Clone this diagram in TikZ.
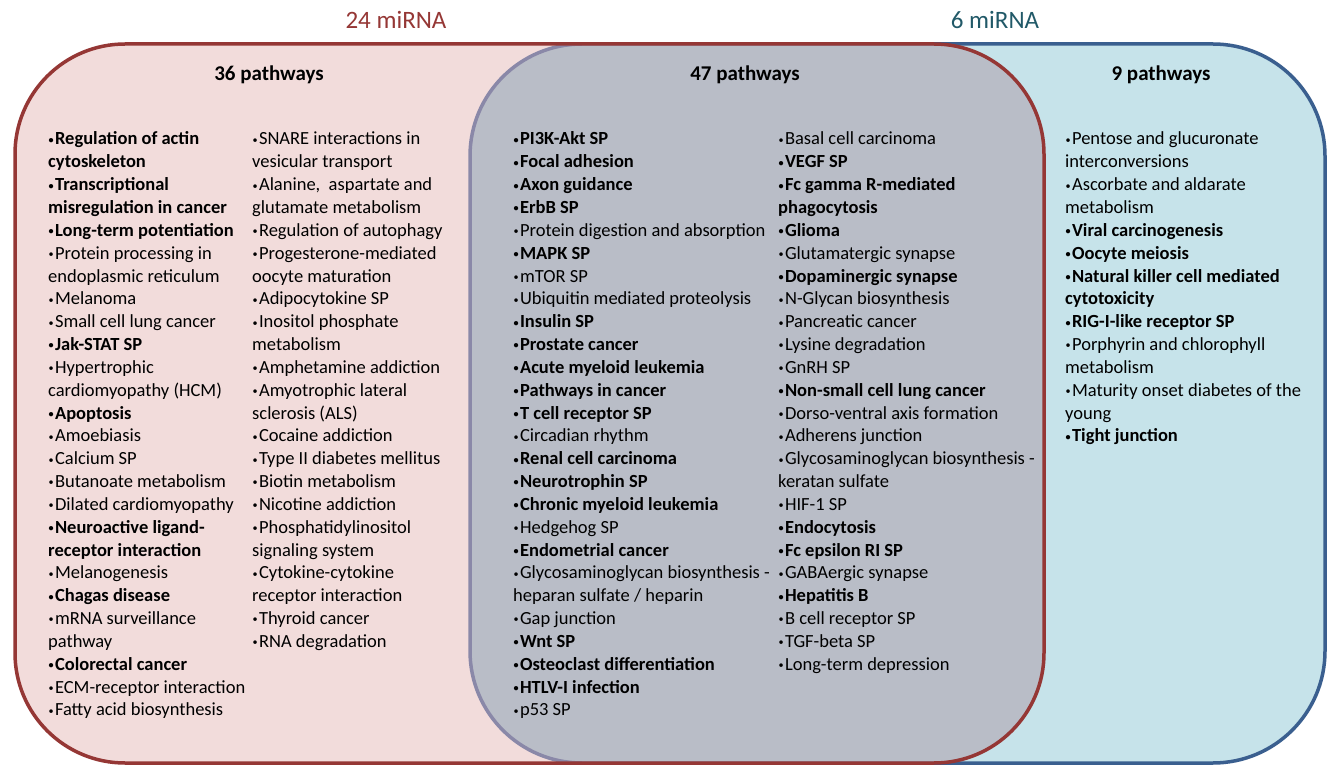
\documentclass[tikz,border=0pt]{standalone}
\usepackage{fontspec}
\usepackage{graphicx}
\setmainfont{Carlito}
\definecolor{pinkfill}{HTML}{F2DCDB}
\definecolor{cyanfill}{HTML}{C6E3EA}
\definecolor{greyfill}{HTML}{B9BDC7}
\definecolor{redline}{HTML}{953735}
\definecolor{blueline}{HTML}{3A5F8F}
\definecolor{purpline}{HTML}{8A88A8}
\definecolor{redlabel}{HTML}{953735}
\definecolor{bluelabel}{HTML}{215968}
\newcommand\bul{\makebox[0.37em][l]{\hspace{0.02em}\raisebox{0.09em}{\scalebox{0.55}{•}}}}
\newcommand\pl[1]{\hbox{#1}}
\newcommand\pb[1]{\hbox{\bfseries #1}}
\newcommand\bi[1]{\hbox{\bul#1}}
\newcommand\bb[1]{\hbox{\bfseries\bul#1}}
\tikzset{
  col/.style={anchor=base west, inner sep=0pt, font=\fontsize{18.5}{22.84}\selectfont},
  ttl/.style={anchor=base, inner sep=0pt, font=\fontsize{21}{25}\selectfont\bfseries},
  lbl/.style={anchor=base, inner sep=0pt, font=\fontsize{25}{30}\selectfont},
  border/.style={line width=3.5pt},
}
\begin{document}
\begin{tikzpicture}[x=1pt,y=-1pt]
\useasboundingbox[fill=white] (0,0) rectangle (1331,767);
% blue set
\fill[cyanfill, rounded corners=112pt] (470,44) rectangle (1325,763);
\draw[border, blueline, rounded corners=112pt] (470,44) rectangle (1325,763);
% red set
\fill[pinkfill, rounded corners=110pt] (15,44) rectangle (1044,763);
\begin{scope}
  \clip[rounded corners=110pt] (15,44) rectangle (1044,763);
  \fill[greyfill, rounded corners=112pt] (470,44) rectangle (1325,763);
  \draw[border, purpline, rounded corners=112pt] (470,44) rectangle (1325,763);
\end{scope}
\draw[border, redline, rounded corners=110pt] (15,44) rectangle (1044,763);

% labels
\node[lbl, text=redlabel] (lred) at (396,29) {24 miRNA};
\node[lbl, text=bluelabel] (lblue) at (995,29) {6 miRNA};

% titles
\node[ttl] (t1) at (269,81) {36 pathways};
\node[ttl] (t2) at (745,81) {47 pathways};
\node[ttl] (t3) at (1161,81) {9 pathways};

% left column 1
\node[col] (l1) at (48,145) {\vtop{%
\bb{Regulation of actin}
\pb{cytoskeleton}
\bb{Transcriptional}
\pb{misregulation in cancer}
\bb{Long-term potentiation}
\bi{Protein processing in}
\pl{endoplasmic reticulum}
\bi{Melanoma}
\bi{Small cell lung cancer}
\bb{Jak-STAT SP}
\bi{Hypertrophic}
\pl{cardiomyopathy (HCM)}
\bb{Apoptosis}
\bi{Amoebiasis}
\bi{Calcium SP}
\bi{Butanoate metabolism}
\bi{Dilated cardiomyopathy}
\bb{Neuroactive ligand-}
\pb{receptor interaction}
\bi{Melanogenesis}
\bb{Chagas disease}
\bi{mRNA surveillance}
\pl{pathway}
\bb{Colorectal cancer}
\bi{ECM-receptor interaction}
\bi{Fatty acid biosynthesis}}};

% left column 2
\node[col] (l2) at (252,145) {\vtop{%
\bi{SNARE interactions in}
\pl{vesicular transport}
\bi{Alanine,\ \ aspartate and}
\pl{glutamate metabolism}
\bi{Regulation of autophagy}
\bi{Progesterone-mediated}
\pl{oocyte maturation}
\bi{Adipocytokine SP}
\bi{Inositol phosphate}
\pl{metabolism}
\bi{Amphetamine addiction}
\bi{Amyotrophic lateral}
\pl{sclerosis (ALS)}
\bi{Cocaine addiction}
\bi{Type II diabetes mellitus}
\bi{Biotin metabolism}
\bi{Nicotine addiction}
\bi{Phosphatidylinositol}
\pl{signaling system}
\bi{Cytokine-cytokine}
\pl{receptor interaction}
\bi{Thyroid cancer}
\bi{RNA degradation}}};

% middle column 1
\node[col] (m1) at (513,145) {\vtop{%
\bb{PI3K-Akt SP}
\bb{Focal adhesion}
\bb{Axon guidance}
\bb{ErbB SP}
\bi{Protein digestion and absorption}
\bb{MAPK SP}
\bi{mTOR SP}
\bi{Ubiquitin mediated proteolysis}
\bb{Insulin SP}
\bb{Prostate cancer}
\bb{Acute myeloid leukemia}
\bb{Pathways in cancer}
\bb{T cell receptor SP}
\bi{Circadian rhythm}
\bb{Renal cell carcinoma}
\bb{Neurotrophin SP}
\bb{Chronic myeloid leukemia}
\bi{Hedgehog SP}
\bb{Endometrial cancer}
\bi{Glycosaminoglycan biosynthesis -}
\pl{heparan sulfate / heparin}
\bi{Gap junction}
\bb{Wnt SP}
\bb{Osteoclast differentiation}
\bb{HTLV-I infection}
\bi{p53 SP}}};

% middle column 2
\node[col] (m2) at (778,145) {\vtop{%
\bi{Basal cell carcinoma}
\bb{VEGF SP}
\bb{Fc gamma R-mediated}
\pb{phagocytosis}
\bb{Glioma}
\bi{Glutamatergic synapse}
\bb{Dopaminergic synapse}
\bi{N-Glycan biosynthesis}
\bi{Pancreatic cancer}
\bi{Lysine degradation}
\bi{GnRH SP}
\bb{Non-small cell lung cancer}
\bi{Dorso-ventral axis formation}
\bi{Adherens junction}
\bi{Glycosaminoglycan biosynthesis -}
\pl{keratan sulfate}
\bi{HIF-1 SP}
\bb{Endocytosis}
\bb{Fc epsilon RI SP}
\bi{GABAergic synapse}
\bb{Hepatitis B}
\bi{B cell receptor SP}
\bi{TGF-beta SP}
\bi{Long-term depression}}};

% right column
\node[col] (r1) at (1065,145) {\vtop{%
\bi{Pentose and glucuronate}
\pl{interconversions}
\bi{Ascorbate and aldarate}
\pl{metabolism}
\bb{Viral carcinogenesis}
\bb{Oocyte meiosis}
\bb{Natural killer cell mediated}
\pb{cytotoxicity}
\bb{RIG-I-like receptor SP}
\bi{Porphyrin and chlorophyll}
\pl{metabolism}
\bi{Maturity onset diabetes of the}
\pl{young}
\bb{Tight junction}}};
\end{tikzpicture}
\end{document}
